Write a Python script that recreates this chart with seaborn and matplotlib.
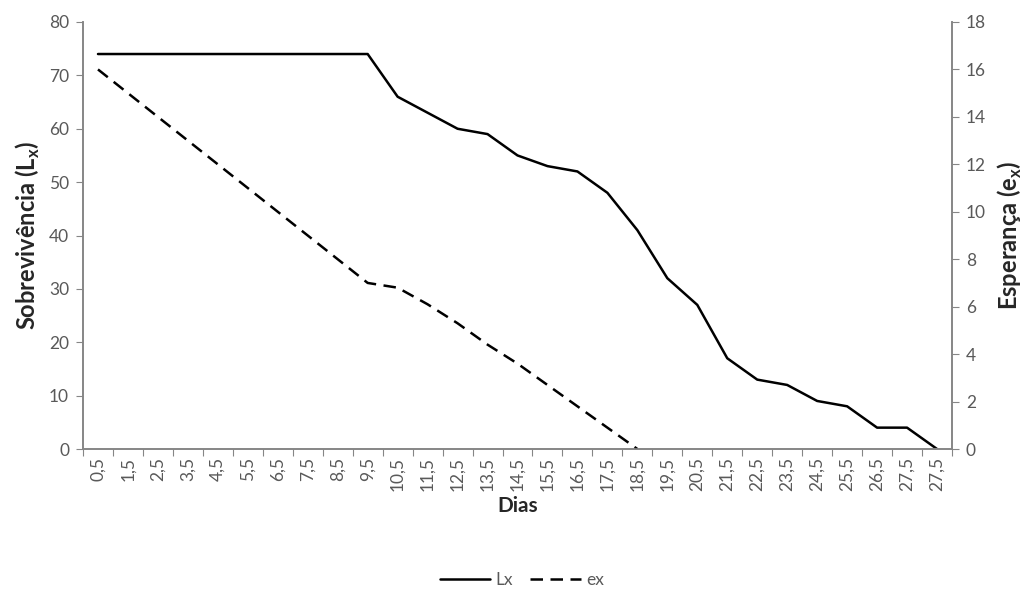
import numpy as np
import pandas as pd
import matplotlib
matplotlib.use("Agg")
import matplotlib.pyplot as plt
import seaborn as sns
from matplotlib.lines import Line2D

# ---- data ----
dias = ["0,5", "1,5", "2,5", "3,5", "4,5", "5,5", "6,5", "7,5", "8,5", "9,5",
        "10,5", "11,5", "12,5", "13,5", "14,5", "15,5", "16,5", "17,5", "18,5",
        "19,5", "20,5", "21,5", "22,5", "23,5", "24,5", "25,5", "26,5", "27,5", "27,5"]
Lx = [74, 74, 74, 74, 74, 74, 74, 74, 74, 74,
      66, 63, 60, 59, 55, 53, 52, 48, 41,
      32, 27, 17, 13, 12, 9, 8, 4, 4, 0]
ex = [16, 15, 14, 13, 12, 11, 10, 9, 8, 7,
      6.8, 6.1, 5.3, 4.4, 3.6, 2.7, 1.8, 0.9, 0,
      np.nan, np.nan, np.nan, np.nan, np.nan, np.nan, np.nan, np.nan, np.nan, np.nan]

sns.set_style("white")
plt.rcParams['font.family'] = ['Lato', 'DejaVu Sans']
plt.rcParams['mathtext.fontset'] = 'custom'
plt.rcParams['mathtext.rm'] = 'Lato'
plt.rcParams['mathtext.bf'] = 'Lato:bold'

df = pd.DataFrame({"pos": np.arange(len(dias)), "Lx": Lx, "ex": ex})

fig = plt.figure(figsize=(10.32, 5.92), dpi=100)
ax = fig.add_axes([83/1032, 1 - 449/592, (952-83)/1032, (449-22)/592])
ax2 = ax.twinx()

sns.lineplot(data=df, x="pos", y="Lx", ax=ax, color="black", linewidth=1.8)
sns.lineplot(data=df.dropna(), x="pos", y="ex", ax=ax2, color="black", linewidth=1.8,
             linestyle=(0, (5, 3)))

gray = "#868686"
tcol = "#595959"
ax.set_xlim(-0.5, len(dias) - 0.5)
ax.set_ylim(0, 80)
ax2.set_ylim(0, 18)
ax.set_yticks(np.arange(0, 81, 10))
ax2.set_yticks(np.arange(0, 19, 2))

ax.set_xticks(np.arange(-0.5, len(dias), 1))
ax.set_xticklabels([])
ax.set_xticks(np.arange(len(dias)), minor=True)
ax.set_xticklabels(dias, minor=True, rotation=90, fontsize=12.5, color=tcol)
ax.tick_params(axis='x', which='major', length=5, color=gray, direction='out', bottom=True)
ax.tick_params(axis='x', which='minor', length=0, pad=6)
ax.tick_params(axis='y', length=5, color=gray, direction='out', left=True, labelsize=12.5,
               labelcolor=tcol, pad=5)
ax2.tick_params(axis='y', length=5, color=gray, direction='out', right=True, labelsize=12.5,
                labelcolor=tcol, pad=5)

for a in (ax, ax2):
    a.spines['top'].set_visible(False)
    for s in ('left', 'right', 'bottom'):
        a.spines[s].set_color(gray)
        a.spines[s].set_linewidth(1.2)
    a.grid(False)

ax.set_xlabel("Dias", fontsize=15, fontweight='bold', color="#262626", labelpad=3)
ax.set_ylabel(r"Sobrevivência (L$_\mathbf{x}$)", fontsize=17, fontweight='bold',
              color="#262626", labelpad=5)
ax2.set_ylabel(r"Esperança (e$_\mathbf{x}$)", fontsize=17, fontweight='bold',
               color="#262626", labelpad=7)

handles = [Line2D([], [], color="black", linewidth=1.8),
           Line2D([], [], color="black", linewidth=1.8, linestyle=(0, (5, 3)))]
fig.legend(handles, ["Lx", "ex"], loc="center", bbox_to_anchor=(522/1032, 1 - 580/592),
           ncol=2, frameon=False, fontsize=12.5, labelcolor=tcol, handlelength=2.9,
           columnspacing=1.0, handletextpad=0.3)

fig.savefig("out.png", dpi=100, facecolor="white")
